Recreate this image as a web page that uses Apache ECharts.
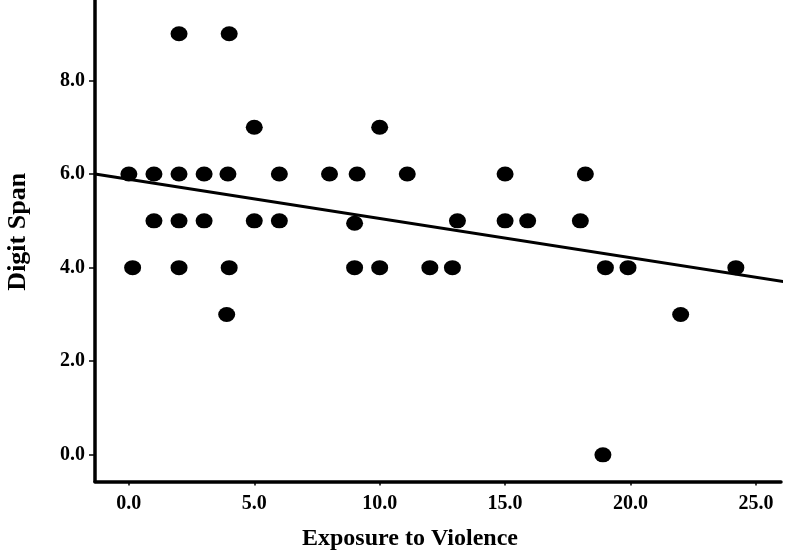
<!DOCTYPE html>
<html>
<head>
<meta charset="utf-8">
<script src="https://cdn.jsdelivr.net/npm/echarts@6/dist/echarts.min.js"></script>
<style>html,body{margin:0;padding:0;background:#fff}#c{width:786px;height:552px}</style>
</head>
<body>
<div id="c"></div>
<script>
// Exposure to Violence (x) vs Digit Span (y)
var exposure = [0, 0.15, 1, 1, 2, 2, 2, 2, 3, 3, 4, 3.95, 4, 3.9, 5, 5, 6, 6, 8, 9.1, 9, 9, 10, 10, 11.1, 12, 12.9, 13.1, 15, 15, 15.9, 18.2, 18, 19, 19.9, 22, 24.2, 18.9];
var digitSpan = [6, 4, 6, 5, 9, 6, 5, 4, 6, 5, 9, 6, 4, 3, 7, 5, 6, 5, 6, 6, 4.95, 4, 7, 4, 6, 4, 4, 5, 6, 5, 5, 6, 5, 4, 4, 3, 4, 0];
// fitted regression line endpoints
var fitX = [-1.35, 26.15];
var fitY = [6.0, 3.70];
var xTicks = [0, 5, 10, 15, 20, 25];
var yTicks = [0, 2, 4, 6, 8];

var points = exposure.map(function (x, i) { return [x, digitSpan[i]]; });
var fitLine = fitX.map(function (x, i) { return [x, fitY[i]]; });

var font = '"Liberation Serif", "Times New Roman", serif';
var chart = echarts.init(document.getElementById('c'));
chart.setOption({
  animation: false,
  backgroundColor: '#fff',
  grid: { left: 95, right: 5, top: 0, bottom: 70.5, containLabel: false, outerBoundsMode: 'none' },
  xAxis: {
    type: 'value', min: -1.35, max: 26.0,
    splitLine: { show: false },
    axisLine: { onZero: false, lineStyle: { color: '#000', width: 3.5 } },
    axisTick: { customValues: xTicks, length: 4, lineStyle: { color: '#000', width: 1.5 } },
    axisLabel: { customValues: xTicks, margin: 12, color: '#000', fontFamily: font, fontWeight: 'bold', fontSize: 20,
      formatter: function (v) { return v.toFixed(1); } },
    name: 'Exposure to Violence', nameLocation: 'middle', nameGap: 45,
    nameTextStyle: { color: '#000', fontFamily: font, fontWeight: 'bold', fontSize: 24, padding: [0, 56, 0, 0] }
  },
  yAxis: {
    type: 'value', min: -0.57, max: 9.72,
    splitLine: { show: false },
    axisLine: { onZero: false, lineStyle: { color: '#000', width: 3.5 } },
    axisTick: { customValues: yTicks, length: 6, lineStyle: { color: '#000', width: 1.5 } },
    axisLabel: { customValues: yTicks, margin: 10, color: '#000', fontFamily: font, fontWeight: 'bold', fontSize: 20,
      formatter: function (v) { return v.toFixed(1); } },
    name: 'Digit Span', nameLocation: 'middle', nameGap: 64,
    nameTextStyle: { color: '#000', fontFamily: font, fontWeight: 'bold', fontSize: 26, padding: [0, 0, 0, 18] }
  },
  series: [
    { type: 'scatter', data: points, symbol: 'circle', symbolSize: [17, 15],
      itemStyle: { color: '#000', opacity: 1 }, z: 2 },
    { type: 'line', data: fitLine, symbol: 'none', clip: false,
      lineStyle: { color: '#000', width: 3 }, z: 3 }
  ]
});
</script>
</body>
</html>
